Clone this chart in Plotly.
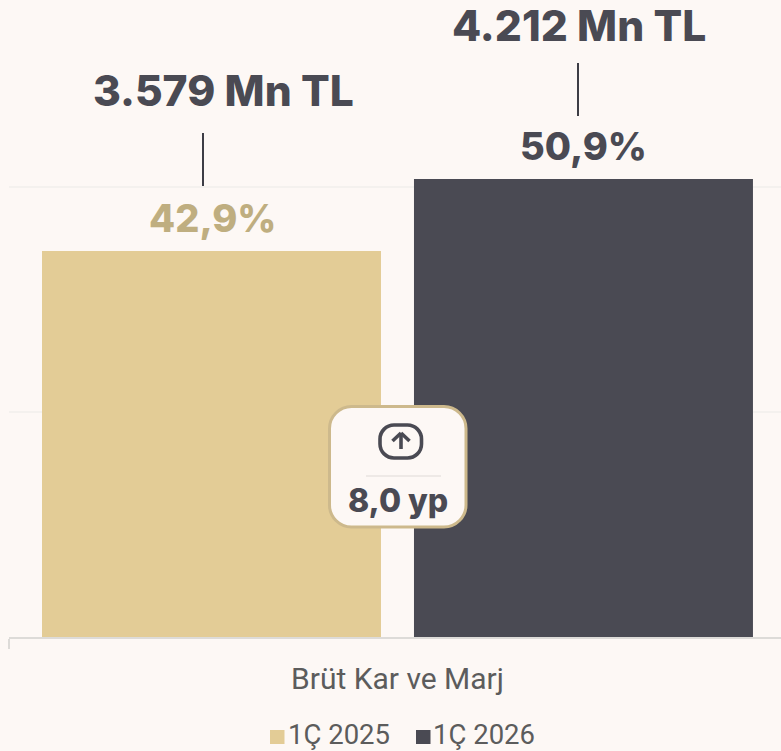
import plotly.graph_objects as go

categories = ["Brüt Kar ve Marj"]
series_names = ["1Ç 2025", "1Ç 2026"]
margin_values = [42.9, 50.9]
margin_labels = ["42,9%", "50,9%"]
profit_labels = ["3.579 Mn TL", "4.212 Mn TL"]
change_label = "8,0 yp"
y_ticks = [0, 25, 50]

BG = "#fdf8f5"
GOLD = "#e3cc96"
DARK = "#4a4a53"
W, H = 781, 751
L, B = 9, 637
Y_PX_PER_UNIT = 9.0
BOLD = "Inter"


def px(x):
    return (x - L) / (W - L)


def py(y):
    return (B - y) / B


def rect(x0, y0, x1, y1, **kw):
    return dict(type="rect", xref="paper", yref="paper", x0=px(x0), y0=py(y0), x1=px(x1), y1=py(y1), **kw)


def rounded(x0, y0, x1, y1, r, **kw):
    c = 0.45 * r
    p = [
        f"M{px(x0 + r)},{py(y0)}", f"L{px(x1 - r)},{py(y0)}",
        f"C{px(x1 - c)},{py(y0)} {px(x1)},{py(y0 + c)} {px(x1)},{py(y0 + r)}",
        f"L{px(x1)},{py(y1 - r)}",
        f"C{px(x1)},{py(y1 - c)} {px(x1 - c)},{py(y1)} {px(x1 - r)},{py(y1)}",
        f"L{px(x0 + r)},{py(y1)}",
        f"C{px(x0 + c)},{py(y1)} {px(x0)},{py(y1 - c)} {px(x0)},{py(y1 - r)}",
        f"L{px(x0)},{py(y0 + r)}",
        f"C{px(x0)},{py(y0 + c)} {px(x0 + c)},{py(y0)} {px(x0 + r)},{py(y0)}", "Z",
    ]
    return dict(type="path", xref="paper", yref="paper", path="".join(p), **kw)


def seg(x0, y0, x1, y1, color, width):
    return dict(type="line", xref="paper", yref="paper", x0=px(x0), y0=py(y0), x1=px(x1), y1=py(y1),
                line=dict(color=color, width=width))


fig = go.Figure()
for name, val, col in zip(series_names, margin_values, [GOLD, DARK]):
    fig.add_bar(name=name, x=categories, y=[val], marker=dict(color=col, line_width=0))

shapes = [
    seg(203, 133, 203, 186, "#3d3d45", 2),
    seg(578, 63, 578, 116, "#3d3d45", 2),
    rounded(329.5, 406.5, 466, 527, 22, fillcolor=BG, line=dict(color="#cdb98c", width=3)),
    rounded(380, 425, 421.5, 458, 14, fillcolor="rgba(0,0,0,0)", line=dict(color=DARK, width=3.6)),
    seg(401, 449, 401, 433, DARK, 3.6),
    seg(392.5, 441, 401, 433, DARK, 3.6),
    seg(409.5, 441, 401, 433, DARK, 3.6),
    seg(366, 476, 441, 476, "#e8e4e0", 1.5),
    rect(270, 730, 284.5, 744, fillcolor=GOLD, line_width=0),
    rect(416, 730, 430.5, 744, fillcolor=DARK, line_width=0),
]

annotations = []
for val, txt, x, col in zip(margin_values, margin_labels, [212, 583.5], ["#bfae80", DARK]):
    annotations.append(dict(xref="paper", yref="y", x=px(x), y=val, xanchor="center", yanchor="bottom", yshift=8,
                            showarrow=False, text=txt, font=dict(family=BOLD, size=38, weight=800, color=col)))
for txt, x, y in zip(profit_labels, [223, 579], [90, 25]):
    annotations.append(dict(xref="paper", yref="paper", x=px(x), y=py(y), xanchor="center", yanchor="middle",
                            showarrow=False, text=txt, font=dict(family=BOLD, size=42.5, weight=800, color=DARK)))
annotations.append(dict(xref="paper", yref="paper", x=px(398), y=py(501), xanchor="center", yanchor="middle",
                        showarrow=False, text=change_label, font=dict(family=BOLD, size=32, weight=800, color=DARK)))
for name, x in zip(series_names, [286, 431]):
    annotations.append(dict(xref="paper", yref="paper", x=px(x), y=py(735), xanchor="left", yanchor="middle",
                            showarrow=False, text=name, font=dict(family="Roboto", size=27.5, color="#5c5c5c")))

fig.update_layout(
    width=W, height=H, autosize=False, showlegend=False,
    margin=dict(l=L, r=0, t=0, b=H - B, pad=0),
    paper_bgcolor=BG, plot_bgcolor=BG,
    barmode="group", bargap=0.0425, bargroupgap=0.0887,
    shapes=shapes, annotations=annotations,
    xaxis=dict(type="category", range=[-0.5, 0.4936], tickson="boundaries", ticks="outside", ticklen=10,
               tickcolor="#dddbd8", tickwidth=1.5, showline=True, linecolor="#dddbd8", linewidth=1.5,
               ticklabelstandoff=14,
               showgrid=False, tickfont=dict(family="Roboto", size=30, color="#5c5c5c")),
    yaxis=dict(range=[0, B / Y_PX_PER_UNIT], tickvals=y_ticks, showticklabels=False, showline=False,
               gridcolor="#f4f1ee", gridwidth=1.5, zeroline=False),
)

fig.write_html("out.html", config=dict(displayModeBar=False),
               post_script="document.body.style.margin='0';document.body.style.overflow='hidden';")
